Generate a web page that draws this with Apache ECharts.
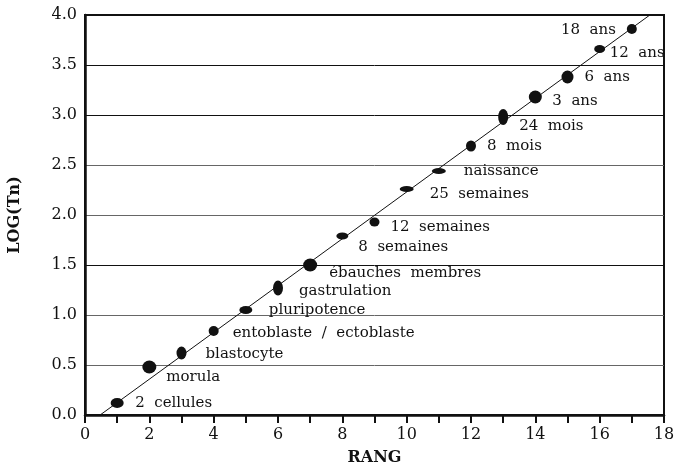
<!DOCTYPE html>
<html>
<head>
<meta charset="utf-8">
<script src="https://cdn.jsdelivr.net/npm/echarts@6/dist/echarts.min.js"></script>
<style>
  html, body { margin: 0; padding: 0; background: #fff; }
  #main { width: 675px; height: 472px; }
</style>
</head>
<body>
<div id="main"></div>
<script>
// donnees
var rang = [1, 2, 3, 4, 5, 6, 7, 8, 9, 10, 11, 12, 13, 14, 15, 16, 17];
var logTn = [0.12, 0.48, 0.62, 0.84, 1.05, 1.27, 1.50, 1.79, 1.93, 2.26, 2.44, 2.69, 2.98, 3.18, 3.38, 3.66, 3.86];
var stades = ['2  cellules', 'morula', 'blastocyte', 'entoblaste  /  ectoblaste', 'pluripotence',
    'gastrulation', 'ébauches  membres', '8  semaines', '12  semaines', '25  semaines',
    'naissance', '8  mois', '24  mois', '3  ans', '6  ans', '12  ans', '18  ans'];
// droite de regression (extremites)
var droiteX = [0.47, 17.56];
var droiteY = [0, 4];
var xTicks = [0, 2, 4, 6, 8, 10, 12, 14, 16, 18];
var yTicks = [0, 0.5, 1, 1.5, 2, 2.5, 3, 3.5, 4];

// styles : taille des taches et decalage des etiquettes
var tailles = [[13, 10], [14, 13], [10, 13], [10, 10], [13, 8], [10, 15], [14, 13], [12, 7], [10, 9],
    [14, 6], [14, 6], [10, 11], [10, 16], [13, 13], [12, 13], [11, 8], [10, 10]];
var decalages = [[18, 0], [17, 10], [24, 1], [19, 2], [23, 0], [21, 3], [19, 8], [16, 11], [16, 5],
    [23, 5], [25, 0], [16, 0], [16, 9], [17, 4], [17, 0], [10, 4], [-16, 1]];

var police = 'DejaVu Serif';

var points = rang.map(function (x, i) {
    return {
        value: [x, logTn[i]],
        name: stades[i],
        symbolSize: tailles[i],
        label: {
            align: decalages[i][0] < 0 ? 'right' : 'left',
            offset: decalages[i]
        }
    };
});

var myChart = echarts.init(document.getElementById('main'));

var option = {
    animation: false,
    grid: {
        left: 85, right: 11, top: 15, bottom: 57,
        outerBoundsMode: 'none',
        containLabel: false,
        show: true, borderColor: '#111', borderWidth: 2
    },
    xAxis: {
        type: 'value',
        min: 0, max: 18, interval: 2,
        name: 'RANG',
        nameLocation: 'middle',
        nameGap: 35,
        nameTextStyle: { fontFamily: police, fontWeight: 'bold', fontSize: 16, color: '#111' },
        axisLine: { onZero: false, lineStyle: { color: '#111', width: 2.5 } },
        axisTick: { show: true, length: 8, lineStyle: { color: '#111', width: 2 } },
        minorTick: { show: true, splitNumber: 2, length: 8, lineStyle: { color: '#111', width: 2 } },
        axisLabel: {
            margin: 12, fontFamily: police, fontSize: 16, color: '#111',
            formatter: function (v) { return xTicks.indexOf(v) >= 0 ? String(v) : ''; }
        },
        splitLine: { show: false }
    },
    yAxis: {
        type: 'value',
        min: 0, max: 4, interval: 0.5,
        name: 'LOG(Tn)',
        nameLocation: 'middle',
        nameGap: 62,
        nameTextStyle: { fontFamily: police, fontWeight: 'bold', fontSize: 16, color: '#111' },
        axisLine: { onZero: false, lineStyle: { color: '#111', width: 2.5 } },
        axisTick: { show: false },
        axisLabel: {
            margin: 8, fontFamily: police, fontSize: 16, color: '#111',
            formatter: function (v) { return yTicks.indexOf(v) >= 0 ? v.toFixed(1) : ''; }
        },
        splitLine: {
            show: true,
            lineStyle: {
                width: 1,
                color: ['#111', '#666', '#666', '#111', '#666', '#666', '#111', '#111', '#111']
            }
        }
    },
    series: [
        {
            type: 'line',
            data: droiteX.map(function (x, i) { return [x, droiteY[i]]; }),
            showSymbol: false,
            symbol: 'none',
            lineStyle: { color: '#111', width: 1 },
            z: 1,
            silent: true
        },
        {
            type: 'scatter',
            data: points,
            symbol: 'circle',
            itemStyle: { color: '#111', opacity: 1 },
            z: 3,
            label: {
                show: true,
                position: 'inside',
                verticalAlign: 'middle',
                formatter: '{b}',
                fontFamily: police,
                fontSize: 15,
                color: '#111'
            }
        }
    ]
};

myChart.setOption(option);
</script>
</body>
</html>
